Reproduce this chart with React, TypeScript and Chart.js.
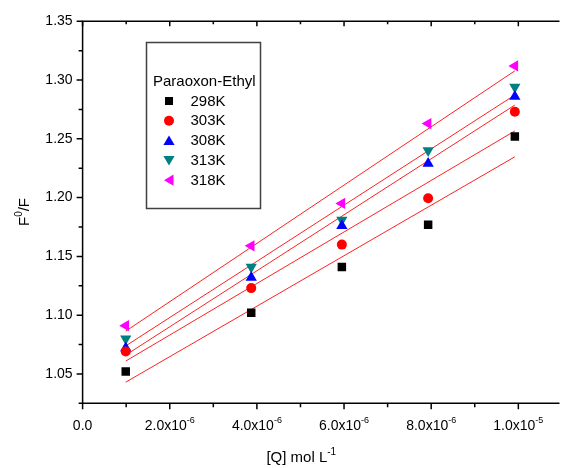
import React, { useEffect, useRef } from 'react';
import { Chart, registerables } from 'chart.js';

Chart.register(...registerables);

// ---------- data ----------
const concentrations = [0.99e-6, 3.87e-6, 5.95e-6, 7.93e-6, 9.92e-6];
const seriesLabels = ['298K', '303K', '308K', '313K', '318K'];
const values298 = [1.052, 1.102, 1.141, 1.177, 1.252];
const values303 = [1.069, 1.123, 1.160, 1.1995, 1.273];
const values308 = [1.072, 1.132, 1.176, 1.229, 1.286];
const values313 = [1.080, 1.141, 1.181, 1.240, 1.294];
const values318 = [1.091, 1.159, 1.195, 1.263, 1.312];
const legendTitle = 'Paraoxon-Ethyl';
const yTickValues = [1.05, 1.10, 1.15, 1.20, 1.25, 1.30, 1.35];
const yTickLabels = ['1.05', '1.10', '1.15', '1.20', '1.25', '1.30', '1.35'];
const xTickValues = [0, 2e-6, 4e-6, 6e-6, 8e-6, 1e-5];
const xTickMantissas = ['0.0', '2.0x10', '4.0x10', '6.0x10', '8.0x10', '1.0x10'];
const xTickExponents = ['', '-6', '-6', '-6', '-6', '-5'];
const xTitleMain = '[Q] mol L';
const xTitleSup = '-1';
const yTitleParts = ['F', '0', '/F'];

// ---------- styles ----------
const FONT = '"Liberation Sans", Arial, Helvetica, sans-serif';
const colors = ['#000000', '#ff0000', '#0000ff', '#008080', '#ff00ff'];
const shapes = ['rect', 'circle', 'triangle', 'triangle', 'triangle'];
const rotations = [0, 0, 0, 180, -90];
const radii = [6, 5, 6.5, 6.5, 6.5];

const allSeries = [values298, values303, values308, values313, values318];

function fitLine(xs: number[], ys: number[]) {
  const n = xs.length;
  const mx = xs.reduce((a, b) => a + b, 0) / n;
  const my = ys.reduce((a, b) => a + b, 0) / n;
  let sxy = 0, sxx = 0;
  for (let i = 0; i < n; i++) {
    sxy += (xs[i] - mx) * (ys[i] - my);
    sxx += (xs[i] - mx) * (xs[i] - mx);
  }
  const slope = sxy / sxx;
  const icpt = my - slope * mx;
  const x0 = xs[0], x1 = xs[n - 1];
  return [{ x: x0, y: icpt + slope * x0 }, { x: x1, y: icpt + slope * x1 }];
}

function drawMarker(ctx: CanvasRenderingContext2D, idx: number, x: number, y: number) {
  ctx.save();
  ctx.fillStyle = colors[idx];
  ctx.beginPath();
  if (idx === 0) {
    ctx.rect(x - 4, y - 4, 8, 8);
  } else if (idx === 1) {
    ctx.arc(x, y, 5, 0, Math.PI * 2);
  } else if (idx === 2) {
    ctx.moveTo(x, y - 5);
    ctx.lineTo(x + 5.6, y + 4.5);
    ctx.lineTo(x - 5.6, y + 4.5);
  } else if (idx === 3) {
    ctx.moveTo(x, y + 5);
    ctx.lineTo(x + 5.6, y - 4.5);
    ctx.lineTo(x - 5.6, y - 4.5);
  } else {
    ctx.moveTo(x - 5, y);
    ctx.lineTo(x + 4.5, y - 5.6);
    ctx.lineTo(x + 4.5, y + 5.6);
  }
  ctx.closePath();
  ctx.fill();
  ctx.restore();
}

const decorPlugin = {
  id: 'decor',
  afterDraw(chart: any) {
    const { ctx, chartArea: a, scales } = chart;
    const xs = scales.x, ys = scales.y;
    ctx.save();
    ctx.strokeStyle = '#000';
    ctx.lineWidth = 1.5;
    ctx.beginPath();
    ctx.moveTo(a.left, a.top);
    ctx.lineTo(a.right + 5, a.top);
    ctx.moveTo(a.left, a.top - 0.75);
    ctx.lineTo(a.left, a.bottom + 0.75);
    ctx.moveTo(a.left, a.bottom);
    ctx.lineTo(a.right + 5, a.bottom);
    ctx.stroke();

    // y ticks (major + minor), outward
    ctx.beginPath();
    for (let i = 0; i < yTickValues.length; i++) {
      const py = ys.getPixelForValue(yTickValues[i]);
      ctx.moveTo(a.left - 6, py);
      ctx.lineTo(a.left, py);
      const mid = yTickValues[i] - 0.025;
      const pm = ys.getPixelForValue(mid);
      if (pm <= a.bottom + 0.5) {
        ctx.moveTo(a.left - 4, pm);
        ctx.lineTo(a.left, pm);
      }
    }
    // x ticks bottom outward, top inward
    for (let i = 0; i < xTickValues.length; i++) {
      const px = xs.getPixelForValue(xTickValues[i]);
      ctx.moveTo(px, a.bottom);
      ctx.lineTo(px, a.bottom + 6);
      ctx.moveTo(px, a.top);
      ctx.lineTo(px, a.top + 5);
      const pm = xs.getPixelForValue(xTickValues[i] + 1e-6);
      if (pm <= a.right) {
        ctx.moveTo(pm, a.bottom);
        ctx.lineTo(pm, a.bottom + 4);
        ctx.moveTo(pm, a.top);
        ctx.lineTo(pm, a.top + 3);
      }
    }
    ctx.stroke();

    // y tick labels
    ctx.fillStyle = '#000';
    ctx.font = `14px ${FONT}`;
    ctx.textAlign = 'right';
    ctx.textBaseline = 'middle';
    for (let i = 0; i < yTickValues.length; i++) {
      ctx.fillText(yTickLabels[i], a.left - 10, ys.getPixelForValue(yTickValues[i]));
    }

    // x tick labels with superscripts
    ctx.textBaseline = 'alphabetic';
    ctx.textAlign = 'left';
    for (let i = 0; i < xTickValues.length; i++) {
      const px = xs.getPixelForValue(xTickValues[i]);
      ctx.font = `14px ${FONT}`;
      const w1 = ctx.measureText(xTickMantissas[i]).width;
      ctx.font = `9px ${FONT}`;
      const w2 = xTickExponents[i] ? ctx.measureText(xTickExponents[i]).width : 0;
      const start = px - (w1 + w2) / 2;
      ctx.font = `14px ${FONT}`;
      ctx.fillText(xTickMantissas[i], start, a.bottom + 27);
      if (w2) {
        ctx.font = `9px ${FONT}`;
        ctx.fillText(xTickExponents[i], start + w1, a.bottom + 20);
      }
    }

    // x title
    ctx.font = `15px ${FONT}`;
    const wt1 = ctx.measureText(xTitleMain).width;
    ctx.font = `10px ${FONT}`;
    const wt2 = ctx.measureText(xTitleSup).width;
    const tx = (a.left + 520) / 2 - (wt1 + wt2) / 2 + 0;
    ctx.font = `15px ${FONT}`;
    ctx.fillText(xTitleMain, tx, 462);
    ctx.font = `10px ${FONT}`;
    ctx.fillText(xTitleSup, tx + wt1, 455);

    // y title (rotated)
    ctx.save();
    ctx.translate(29, 212);
    ctx.rotate(-Math.PI / 2);
    ctx.font = `15px ${FONT}`;
    const f1 = ctx.measureText(yTitleParts[0]).width;
    const f3 = ctx.measureText(yTitleParts[2]).width;
    ctx.font = `10px ${FONT}`;
    const f2 = ctx.measureText(yTitleParts[1]).width;
    let sx = -(f1 + f2 + f3) / 2;
    ctx.font = `15px ${FONT}`;
    ctx.fillText(yTitleParts[0], sx, 0);
    ctx.font = `10px ${FONT}`;
    ctx.fillText(yTitleParts[1], sx + f1, -7);
    ctx.font = `15px ${FONT}`;
    ctx.fillText(yTitleParts[2], sx + f1 + f2, 0);
    ctx.restore();

    // legend box
    ctx.fillStyle = '#fff';
    ctx.fillRect(146, 42, 115, 167);
    ctx.strokeStyle = '#404040';
    ctx.lineWidth = 1.5;
    ctx.strokeRect(146.5, 42.5, 114, 166);
    ctx.fillStyle = '#000';
    ctx.font = `15px ${FONT}`;
    ctx.textAlign = 'left';
    ctx.textBaseline = 'middle';
    ctx.fillText(legendTitle, 153, 82);
    for (let i = 0; i < seriesLabels.length; i++) {
      const cy = 101 + i * 19.8;
      drawMarker(ctx, i, 169, cy);
      ctx.fillStyle = '#000';
      ctx.fillText(seriesLabels[i], 190.5, cy + 0.5);
    }
    ctx.restore();
  },
};

export default function App() {
  const ref = useRef<HTMLCanvasElement>(null);
  useEffect(() => {
    if (!ref.current) return;
    const pointSets = allSeries.map((vals, i) => ({
      label: seriesLabels[i],
      data: concentrations.map((c, j) => ({ x: c, y: vals[j] })),
      showLine: false,
      pointStyle: shapes[i] as any,
      pointRotation: rotations[i],
      pointRadius: radii[i],
      pointHoverRadius: radii[i],
      pointBorderWidth: 0,
      backgroundColor: colors[i],
      borderColor: colors[i],
      order: 0,
    }));
    const fitSets = allSeries.map((vals, i) => ({
      label: 'fit ' + seriesLabels[i],
      data: fitLine(concentrations, vals),
      showLine: true,
      pointRadius: 0,
      borderColor: '#ff2020',
      borderWidth: 1,
      fill: false,
      order: 1,
    }));
    const chart = new Chart(ref.current, {
      type: 'scatter',
      data: { datasets: [...pointSets, ...fitSets] as any },
      options: {
        animation: false,
        responsive: false,
        maintainAspectRatio: false,
        layout: { padding: { top: 21.3, right: 0, left: 0, bottom: 0 } },
        plugins: { legend: { display: false }, tooltip: { enabled: false } },
        scales: {
          x: {
            type: 'linear',
            min: 0,
            max: 1.083e-5,
            grid: { display: false },
            border: { display: false },
            ticks: { display: false },
            afterFit: (s: any) => { s.height = 64.7; },
          },
          y: {
            type: 'linear',
            min: 1.025,
            max: 1.35,
            grid: { display: false },
            border: { display: false },
            ticks: { display: false },
            afterFit: (s: any) => { s.width = 82.6; },
          },
        },
      },
      plugins: [decorPlugin],
    });
    return () => chart.destroy();
  }, []);
  return (
    <div style={{ position: 'fixed', left: 0, top: 0, width: 561, height: 468, background: '#fff' }}>
      <canvas ref={ref} width={561} height={468} style={{ width: 561, height: 468 }} />
    </div>
  );
}
